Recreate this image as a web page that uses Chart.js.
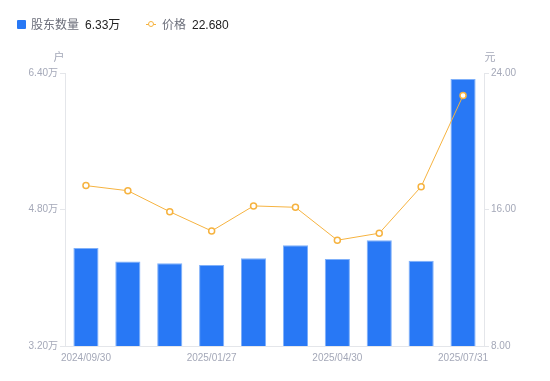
<!DOCTYPE html>
<html><head><meta charset="utf-8">
<script src="https://cdn.jsdelivr.net/npm/chart.js@4/dist/chart.umd.min.js"></script>
<style>
html,body{margin:0;padding:0;background:#fff;}
#wrap{position:relative;width:550px;height:381px;}
#legend{position:absolute;left:0;top:0;width:550px;height:40px;font-family:"Liberation Sans","Noto Sans CJK SC",sans-serif;font-size:12px;}
.it{position:absolute;top:18px;line-height:15px;white-space:nowrap;}
.g{color:#6b6e7a;}
.d{color:#222;}
</style>
</head><body>
<div id="wrap">
<canvas id="c" width="550" height="381"></canvas>
<div id="legend"></div>
</div>
<script>
const categories = ["2024/09/30","2024/10/31","2024/12/31","2025/01/27","2025/02/28","2025/03/31","2025/04/30","2025/06/30","2025/07/10","2025/07/31"];
const holders = [4.35, 4.19, 4.17, 4.15, 4.23, 4.38, 4.22, 4.44, 4.20, 6.33];
const prices = [17.40, 17.10, 15.87, 14.74, 16.21, 16.13, 14.20, 14.61, 17.34, 22.68];
const leftTicks = [3.2, 4.8, 6.4];
const rightTicks = [8, 16, 24];
const seriesNames = ["股东数量", "价格"];
const units = ["户", "元"];

const BLUE = "#2878f5", ORANGE = "#f6b340", TICK = "#a4a8b8", LINE = "#e4e6ea";
const FONT = '"Liberation Sans","Noto Sans CJK SC",sans-serif';

const lastH = holders[holders.length-1], lastP = prices[prices.length-1];
document.getElementById('legend').innerHTML =
 '<div style="position:absolute;left:17px;top:20px;width:9px;height:9px;background:'+BLUE+';border-radius:1px"></div>'+
 '<div class="it g" style="left:31px">'+seriesNames[0]+'</div>'+
 '<div class="it d" style="left:85px">'+lastH.toFixed(2)+'万</div>'+
 '<div style="position:absolute;left:146px;top:24px;width:10px;height:1px;background:'+ORANGE+'"></div>'+
 '<div style="position:absolute;left:148px;top:21px;width:4px;height:4px;border:1.5px solid '+ORANGE+';border-radius:50%;background:#fff"></div>'+
 '<div class="it g" style="left:162px">'+seriesNames[1]+'</div>'+
 '<div class="it d" style="left:192px">'+lastP.toFixed(3)+'</div>';

const titles = {
  id:'titles',
  afterDraw(chart){
    const ctx = chart.ctx, a = chart.chartArea;
    ctx.save();
    ctx.fillStyle = TICK; ctx.font = '11px '+FONT;
    ctx.textAlign='center'; ctx.textBaseline='middle';
    ctx.fillText(units[0], a.left-6, a.top-15);
    ctx.fillText(units[1], a.right+6, a.top-15);
    ctx.restore();
  }
};

new Chart(document.getElementById('c'), {
  data:{
    labels: categories,
    datasets:[
      {type:'line', label:seriesNames[1], data:prices, yAxisID:'y1', borderColor:ORANGE, borderWidth:1,
       pointRadius:3, pointBorderWidth:1.5, pointBackgroundColor:'#fff', pointBorderColor:ORANGE, tension:0, order:0},
      {type:'bar', label:seriesNames[0], data:holders, yAxisID:'y', backgroundColor:BLUE, borderColor:'#7fb0fa', borderWidth:{top:1,left:1,right:1,bottom:0},
       barPercentage:0.6, categoryPercentage:1, order:1}
    ]
  },
  options:{
    responsive:false, animation:false,
    layout:{padding:{top:73,left:0,right:0,bottom:0}},
    plugins:{legend:{display:false}, tooltip:{enabled:false}},
    scales:{
      x:{
        grid:{display:true, drawOnChartArea:false, drawTicks:false},
        border:{color:LINE},
        ticks:{autoSkip:false, maxRotation:0, padding:6, color:TICK, font:{size:10, family:FONT},
          callback:function(v,i){ return i%3===0 ? this.getLabelForValue(v) : ''; }},
        afterFit(s){ s.height = 35; }
      },
      y:{
        position:'left', min:leftTicks[0], max:leftTicks[leftTicks.length-1],
        grid:{drawOnChartArea:false, drawTicks:true, tickLength:5, tickColor:LINE},
        border:{color:LINE},
        afterBuildTicks(s){ s.ticks = leftTicks.map(v=>({value:v})); },
        ticks:{padding:2, color:TICK, font:{size:10, family:FONT}, callback:v=>v.toFixed(2)+'万'},
        afterFit(s){ s.width = 65; }
      },
      y1:{
        position:'right', min:rightTicks[0], max:rightTicks[rightTicks.length-1],
        grid:{drawOnChartArea:false, drawTicks:true, tickLength:5, tickColor:LINE},
        border:{color:LINE},
        afterBuildTicks(s){ s.ticks = rightTicks.map(v=>({value:v})); },
        ticks:{padding:2, color:TICK, font:{size:10, family:FONT}, callback:v=>v.toFixed(2)},
        afterFit(s){ s.width = 66; }
      }
    }
  },
  plugins:[titles]
});
</script>
</body></html>
